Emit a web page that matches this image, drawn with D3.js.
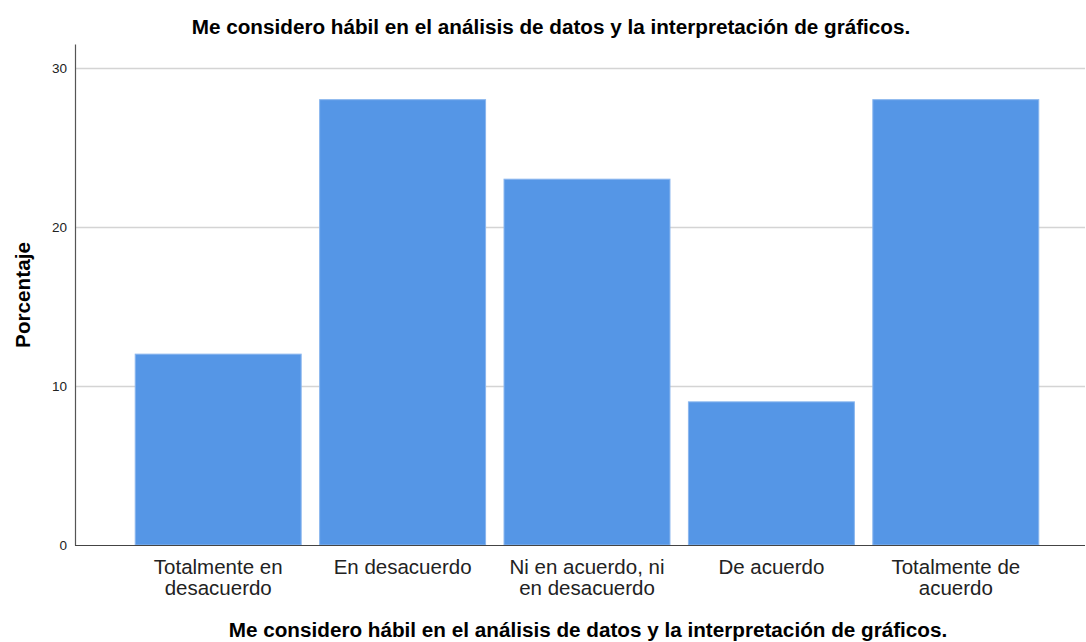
<!DOCTYPE html>
<html>
<head>
<meta charset="utf-8">
<script src="https://cdn.jsdelivr.net/npm/d3@7"></script>
<style>
  body { margin: 0; background: #fff; }
  text { font-family: "Liberation Sans", Arial, sans-serif; }
</style>
</head>
<body>
<svg id="chart" width="1086" height="642"></svg>
<script>
// data
var categories = ["Totalmente en desacuerdo", "En desacuerdo", "Ni en acuerdo, ni en desacuerdo", "De acuerdo", "Totalmente de acuerdo"]
var labelLines = [["Totalmente en", "desacuerdo"], ["En desacuerdo"], ["Ni en acuerdo, ni", "en desacuerdo"], ["De acuerdo"], ["Totalmente de", "acuerdo"]]
var percentages = [12, 28, 23, 9, 28]
var yTicks = [0, 10, 20, 30]
var title = "Me considero hábil en el análisis de datos y la interpretación de gráficos."

var svg = d3.select("#chart")
var margin = {top: 44, right: 1, bottom: 97, left: 75},
    width = 1086 - margin.left - margin.right,
    height = 642 - margin.top - margin.bottom;

var x = d3.scaleBand()
    .domain(categories)
    .range([51, 973])
    .paddingInner(0.1)
    .paddingOuter(0.05)

var y = d3.scaleLinear()
    .domain([0, 31.5])
    .range([height, 0])

var g = svg.append("g")
    .attr("transform", "translate(" + margin.left + "," + margin.top + ")")

// gridlines
g.selectAll(".grid")
    .data(yTicks.filter(function(d) { return d > 0; }))
    .enter().append("line")
    .attr("x1", 0)
    .attr("x2", width)
    .attr("y1", function(d) { return Math.round(y(d)) + 0.5; })
    .attr("y2", function(d) { return Math.round(y(d)) + 0.5; })
    .attr("stroke", "#d4d4d4")
    .attr("stroke-width", 1.5)

// bars
g.selectAll(".bar")
    .data(percentages)
    .enter().append("rect")
    .attr("x", function(d, i) { return x(categories[i]); })
    .attr("y", function(d) { return y(d); })
    .attr("width", x.bandwidth())
    .attr("height", function(d) { return height - y(d); })
    .attr("fill", "#5596e6")
    .attr("stroke", "#8ab6ee")
    .attr("stroke-width", 1)

// y axis
var yAxis = g.append("g")
    .call(d3.axisLeft(y).tickValues(yTicks).tickSize(0).tickPadding(8))
yAxis.select(".domain").attr("stroke", "#555").attr("stroke-width", 1.2)
yAxis.selectAll(".tick text").attr("font-size", 13.5).attr("fill", "#222")
    .style("font-family", "Liberation Sans, Arial, sans-serif")

// x axis baseline
g.append("line")
    .attr("x1", 0).attr("x2", width)
    .attr("y1", height + 0.5).attr("y2", height + 0.5)
    .attr("stroke", "#444").attr("stroke-width", 1.2)

// category labels
var lbl = g.selectAll(".cat")
    .data(labelLines)
    .enter().append("text")
    .attr("text-anchor", "middle")
    .attr("font-size", 20.5)
    .attr("fill", "#222")
    .attr("transform", function(d, i) {
      return "translate(" + (x(categories[i]) + x.bandwidth() / 2) + "," + (height + 29) + ")";
    })
lbl.selectAll("tspan")
    .data(function(d) { return d; })
    .enter().append("tspan")
    .attr("x", 0)
    .attr("dy", function(d, i) { return i === 0 ? 0 : 21; })
    .text(function(d) { return d; })

// titles
svg.append("text")
    .attr("x", 551).attr("y", 34)
    .attr("text-anchor", "middle")
    .attr("font-size", 20.7)
    .attr("font-weight", "bold")
    .text(title)

svg.append("text")
    .attr("x", 588).attr("y", 637)
    .attr("text-anchor", "middle")
    .attr("font-size", 20.7)
    .attr("font-weight", "bold")
    .text(title)

svg.append("text")
    .attr("transform", "translate(30," + 295 + ") rotate(-90)")
    .attr("text-anchor", "middle")
    .attr("font-size", 20.7)
    .attr("font-weight", "bold")
    .text("Porcentaje")
</script>
</body>
</html>
